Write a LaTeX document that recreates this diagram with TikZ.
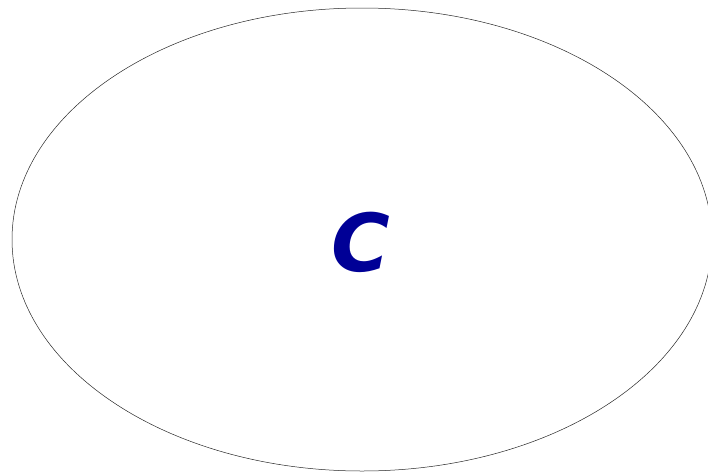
\documentclass[tikz,border=0pt]{standalone}
\usepackage{fontspec}
\usetikzlibrary{shapes.geometric}
\newfontfamily\cfont{DejaVu Sans}
\definecolor{cblue}{RGB}{0,0,150}
\tikzset{
  shell/.style={ellipse, draw=black!85, line width=0.5pt, inner sep=0pt,
    minimum width=700pt, minimum height=463pt},
  letter/.style={text=cblue, font=\cfont\bfseries\itshape\fontsize{80}{84}\selectfont}
}
\begin{document}
\begin{tikzpicture}[x=1pt,y=-1pt]
\useasboundingbox (0,0) rectangle (708,471);
\node[shell] (e) at (362,239.5) {};
\node[letter] (c) at (361,242) {C};
\end{tikzpicture}
\end{document}
